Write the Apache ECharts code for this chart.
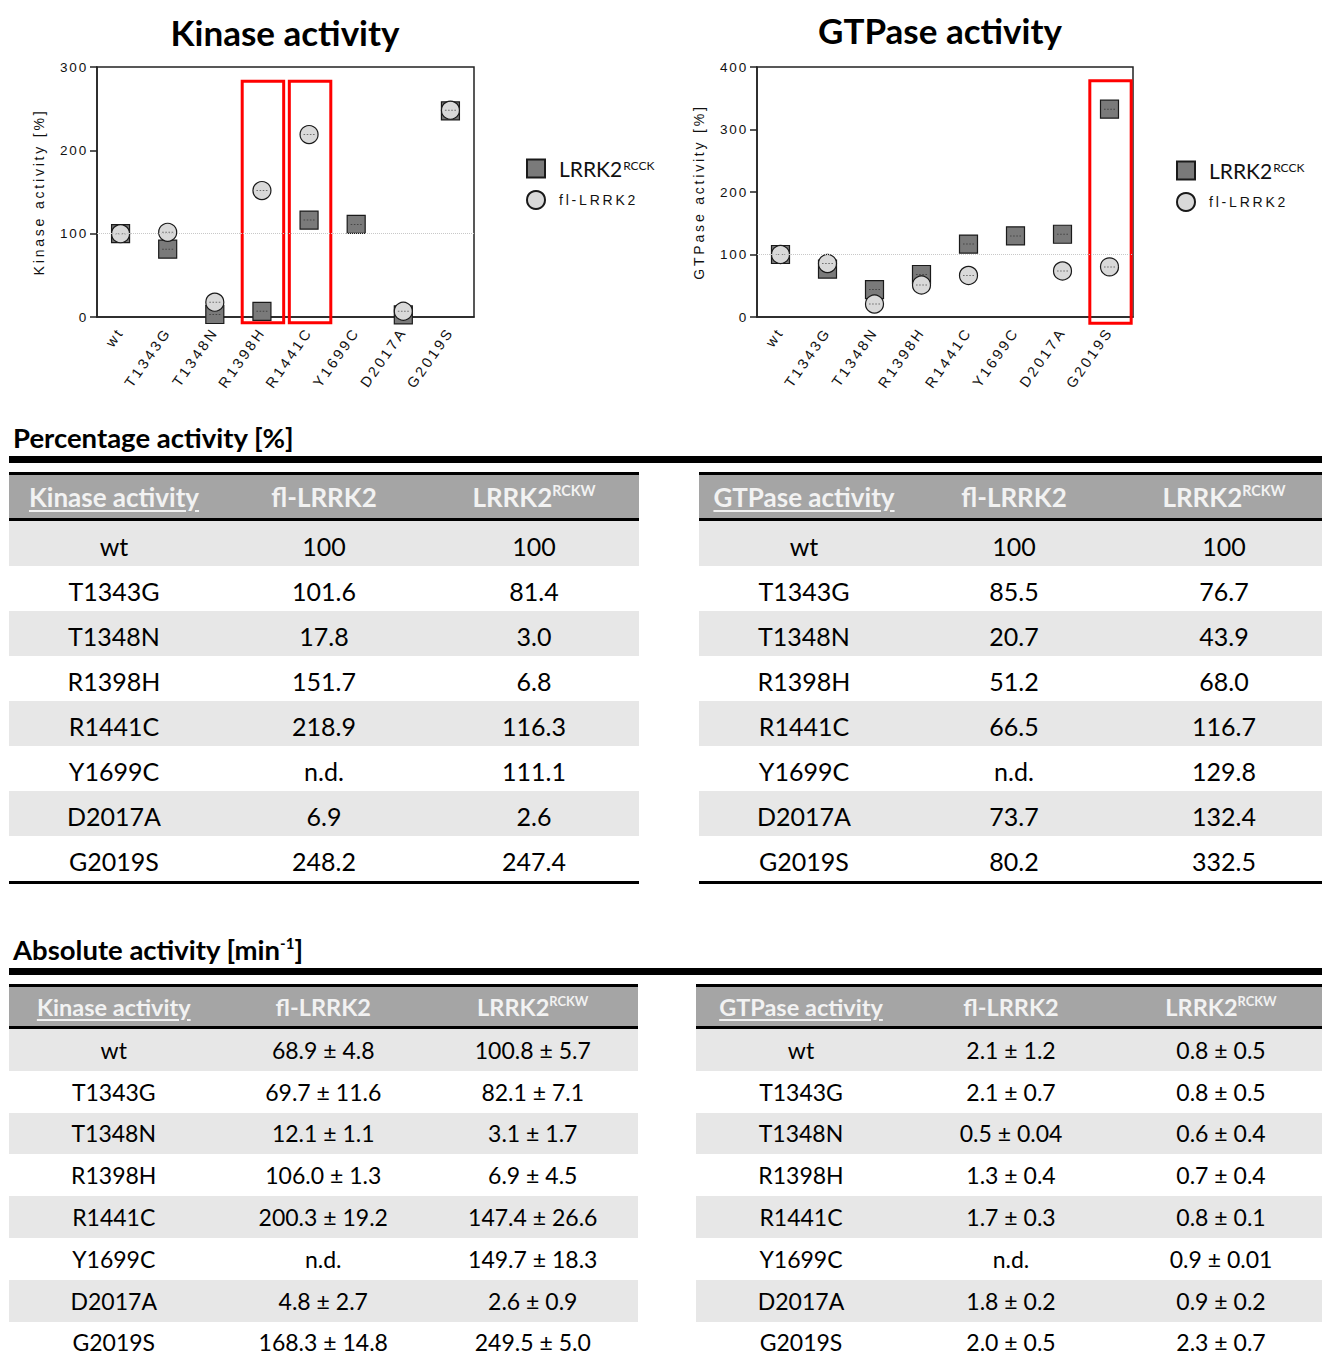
<!DOCTYPE html>
<html>
<head>
<meta charset="utf-8">
<title>LRRK2 kinase and GTPase activity</title>
<script src="https://cdn.jsdelivr.net/npm/echarts@6/dist/echarts.min.js"></script>
<style>
html, body { margin: 0; padding: 0; background: #fff; }
body { width: 1322px; height: 1355px; overflow: hidden; position: relative; font-family: Lato, "Noto Sans", sans-serif; }
#top { position: absolute; left: 0; top: 0; width: 1322px; height: 400px; }
.sec { position: absolute; left: 13px; font-weight: bold; font-size: 27.5px; line-height: 30px; color: #000; }
.bar { position: absolute; left: 9px; width: 1313px; height: 7px; background: #000; }
.tbl { position: absolute; }
.hdr { display: flex; align-items: center; background: #a5a5a5; border-top: 3px solid #000; border-bottom: 3px solid #000; color: #f2f2f2; font-weight: bold; }
.row { display: flex; align-items: center; color: #000; }
.row.alt { background: #e7e7e7; }
.tbl .row:last-child { border-bottom: 3px solid #000; }
.cell { flex: none; text-align: center; white-space: nowrap; }
.hdr .first { text-decoration: underline; text-underline-offset: 3px; }
sup { font-size: 0.55em; vertical-align: 0.75em; line-height: 0; }
</style>
</head>
<body>
<div id="top"></div>

<div class="sec" style="top:423px">Percentage activity [%]</div>
<div class="bar" style="top:456px"></div>
<div class="tbl" id="pctKinase" style="left:9px; top:472px"></div>
<div class="tbl" id="pctGtpase" style="left:699px; top:472px"></div>

<div class="sec" style="top:935px">Absolute activity [min<sup>-1</sup>]</div>
<div class="bar" style="top:968px"></div>
<div class="tbl" id="absKinase" style="left:9px; top:984px"></div>
<div class="tbl" id="absGtpase" style="left:696px; top:984px"></div>

<script>
// mutants on the x axis / table rows
var mutants = ['wt', 'T1343G', 'T1348N', 'R1398H', 'R1441C', 'Y1699C', 'D2017A', 'G2019S'];

// percentage activity (null = n.d.)
var kinaseFl   = [100, 101.6, 17.8, 151.7, 218.9, null, 6.9, 248.2];
var kinaseRckw = [100, 81.4, 3.0, 6.8, 116.3, 111.1, 2.6, 247.4];
var gtpaseFl   = [100, 85.5, 20.7, 51.2, 66.5, null, 73.7, 80.2];
var gtpaseRckw = [100, 76.7, 43.9, 68.0, 116.7, 129.8, 132.4, 332.5];

// absolute activity [min-1]
var kinaseAbsFl   = ['68.9 ± 4.8', '69.7 ± 11.6', '12.1 ± 1.1', '106.0 ± 1.3', '200.3 ± 19.2', 'n.d.', '4.8 ± 2.7', '168.3 ± 14.8'];
var kinaseAbsRckw = ['100.8 ± 5.7', '82.1 ± 7.1', '3.1 ± 1.7', '6.9 ± 4.5', '147.4 ± 26.6', '149.7 ± 18.3', '2.6 ± 0.9', '249.5 ± 5.0'];
var gtpaseAbsFl   = ['2.1 ± 1.2', '2.1 ± 0.7', '0.5 ± 0.04', '1.3 ± 0.4', '1.7 ± 0.3', 'n.d.', '1.8 ± 0.2', '2.0 ± 0.5'];
var gtpaseAbsRckw = ['0.8 ± 0.5', '0.8 ± 0.5', '0.6 ± 0.4', '0.7 ± 0.4', '0.8 ± 0.1', '0.9 ± 0.01', '0.9 ± 0.2', '2.3 ± 0.7'];

// y axis scales: [min, max, interval]
var kinaseAxis = [0, 300, 100];
var gtpaseAxis = [0, 400, 100];

// highlighted mutants: [category index, top value, bottom value]
var kinaseBoxes = [[3, 283, -7], [4, 283, -7]];
var gtpaseBoxes = [[7, 378, -10]];

var AXIS_FONT = 'Liberation Sans';
var dots = 'path://M0 0h2v1H0zM4 0h2v1H4zM8 0h2v1H8zM12 0h2v1h-2z';

function nd(a) {
	return a.map(function (v) { return v == null ? '-' : v; });
}

function seriesFor(i, rckw, fl, boxes) {
	return [{
		type: 'scatter', xAxisIndex: i, yAxisIndex: i, data: [], z: 1, silent: true,
		markLine: {
			silent: true, symbol: 'none', label: { show: false },
			lineStyle: { type: 'dotted', color: '#c8c8c8', width: 1 },
			data: [{ yAxis: 100 }]
		}
	}, {
		name: 'LRRK2RCCK', type: 'scatter', xAxisIndex: i, yAxisIndex: i,
		symbol: 'rect', symbolSize: 18, clip: false,
		itemStyle: { color: '#7a7a7a', borderColor: '#1a1a1a', borderWidth: 1.2, opacity: 1 },
		data: nd(rckw)
	}, {
		name: 'LRRK2RCCK', type: 'scatter', xAxisIndex: i, yAxisIndex: i, silent: true,
		symbol: dots, symbolSize: [11, 1], clip: false,
		itemStyle: { color: '#3a3a3a' },
		data: nd(rckw)
	}, {
		name: 'fl-LRRK2', type: 'scatter', xAxisIndex: i, yAxisIndex: i,
		symbol: 'circle', symbolSize: 18, clip: false,
		itemStyle: { color: '#d9d9d9', borderColor: '#1a1a1a', borderWidth: 1.2, opacity: 1 },
		data: nd(fl)
	}, {
		name: 'fl-LRRK2', type: 'scatter', xAxisIndex: i, yAxisIndex: i, silent: true,
		symbol: dots, symbolSize: [11, 1], clip: false,
		itemStyle: { color: '#555' },
		data: nd(fl)
	}, {
		type: 'custom', xAxisIndex: i, yAxisIndex: i, silent: true, clip: false,
		encode: { x: 0, y: 1 },
		data: boxes,
		renderItem: function (params, api) {
			var p1 = api.coord([api.value(0), api.value(1)]);
			var p2 = api.coord([api.value(0), api.value(2)]);
			var w = api.size([1, 0])[0] * 0.88;
			return {
				type: 'rect',
				shape: { x: p1[0] - w / 2 + 1, y: p1[1], width: w, height: p2[1] - p1[1] },
				style: { fill: 'none', stroke: '#ff0000', lineWidth: 3 }
			};
		}
	}];
}

function xAxisFor(i) {
	return {
		type: 'category', gridIndex: i, data: mutants, boundaryGap: true,
		axisLine: { lineStyle: { color: '#222', width: 1.5 } },
		axisTick: { alignWithLabel: true, length: 7, lineStyle: { color: '#222', width: 1.5 } },
		axisLabel: { rotate: 55, margin: 12, fontFamily: AXIS_FONT, fontSize: 14.5, color: '#111', interval: 0 },
		splitLine: { show: false }
	};
}

function yAxisFor(i, sc, name) {
	return {
		type: 'value', gridIndex: i, min: sc[0], max: sc[1], interval: sc[2],
		name: name, nameLocation: 'middle', nameGap: 51, nameRotate: 90,
		nameTextStyle: { fontFamily: AXIS_FONT, fontSize: 14, color: '#111' },
		axisLine: { show: true, lineStyle: { color: '#222', width: 1.5 } },
		axisTick: { show: true, length: 7, lineStyle: { color: '#222', width: 1.5 } },
		axisLabel: { fontFamily: AXIS_FONT, fontSize: 13.5, color: '#111', margin: 9 },
		splitLine: { show: false }
	};
}

function legendFor(left, top) {
	return {
		left: left, top: top, orient: 'vertical',
		itemWidth: 18, itemHeight: 18, itemGap: 11,
		selectedMode: false,
		data: ['LRRK2RCCK', 'fl-LRRK2'],
		formatter: function (n) {
			return n === 'LRRK2RCCK' ? '{m|LRRK2}{s|RCCK}' : '{f|fl-LRRK2}';
		},
		textStyle: {
			rich: {
				m: { fontFamily: 'Lato', fontSize: 21, color: '#111', lineHeight: 18, padding: [0, 0, 0, 9] },
				s: { fontFamily: 'Lato', fontSize: 12, color: '#111', lineHeight: 18, verticalAlign: 'top', padding: [0, 0, 0, 1] },
				f: { fontFamily: AXIS_FONT, fontSize: 14, color: '#111', lineHeight: 18, padding: [0, 0, 0, 9] }
			}
		}
	};
}

var chart = echarts.init(document.getElementById('top'), null, { renderer: 'svg' });
chart.setOption({
	animation: false,
	title: [{
		text: 'Kinase activity', left: 280, top: 9, textAlign: 'center',
		textStyle: { fontFamily: 'Lato', fontWeight: 'bold', fontSize: 35, color: '#000' }
	}, {
		text: 'GTPase activity', left: 935, top: 7, textAlign: 'center',
		textStyle: { fontFamily: 'Lato', fontWeight: 'bold', fontSize: 35, color: '#000' }
	}],
	legend: [legendFor(521, 153), legendFor(1171, 155)],
	grid: [
		{ left: 97, top: 67, width: 377, height: 250, show: true, borderColor: '#222', borderWidth: 1.5 },
		{ left: 757, top: 67, width: 376, height: 250, show: true, borderColor: '#222', borderWidth: 1.5 }
	],
	xAxis: [xAxisFor(0), xAxisFor(1)],
	yAxis: [yAxisFor(0, kinaseAxis, 'Kinase activity [%]'), yAxisFor(1, gtpaseAxis, 'GTPase activity [%]')],
	series: seriesFor(0, kinaseRckw, kinaseFl, kinaseBoxes).concat(seriesFor(1, gtpaseRckw, gtpaseFl, gtpaseBoxes))
});

// the plotting program spaced out the axis lettering
function spaceAxisText() {
	document.querySelectorAll('#top text').forEach(function (t) {
		var cs = getComputedStyle(t);
		if (cs.fontFamily.indexOf('Liberation') >= 0) {
			t.style.letterSpacing = parseFloat(cs.fontSize) >= 14 ? '2.8px' : '1.8px';
		}
	});
}
chart.on('finished', spaceAxisText);
spaceAxisText();
setTimeout(spaceAxisText, 50);

// tables
function pct(v) {
	if (v == null) return 'n.d.';
	return v === 100 ? '100' : v.toFixed(1);
}

function buildTable(id, label, c1, c2, colW, hdrH, rowH, hdrFont, bodyFont, shift) {
	var el = document.getElementById(id);
	var html = '<div class="hdr" style="height:' + hdrH + 'px;font-size:' + hdrFont + 'px">';
	var heads = ['<span class="first">' + label + '</span>', 'fl-LRRK2', 'LRRK2<sup>RCKW</sup>'];
	heads.forEach(function (h) {
		html += '<div class="cell" style="width:' + colW + 'px">' + h + '</div>';
	});
	html += '</div>';
	mutants.forEach(function (m, i) {
		html += '<div class="row' + (i % 2 === 0 ? ' alt' : '') + '" style="height:' + rowH + 'px;font-size:' + bodyFont + 'px">';
		[m, c1[i], c2[i]].forEach(function (c) {
			html += '<div class="cell" style="width:' + colW + 'px;padding-top:' + shift + 'px">' + c + '</div>';
		});
		html += '</div>';
	});
	el.style.width = (colW * 3) + 'px';
	el.innerHTML = html;
}

buildTable('pctKinase', 'Kinase activity', kinaseFl.map(pct), kinaseRckw.map(pct), 210, 43, 45, 26, 25, 5);
buildTable('pctGtpase', 'GTPase activity', gtpaseFl.map(pct), gtpaseRckw.map(pct), 210, 43, 45, 26, 25, 5);
buildTable('absKinase', 'Kinase activity', kinaseAbsFl, kinaseAbsRckw, 209.5, 39, 41.8, 23.5, 23, 0);
buildTable('absGtpase', 'GTPase activity', gtpaseAbsFl, gtpaseAbsRckw, 210, 39, 41.8, 23.5, 23, 0);
</script>
</body>
</html>
